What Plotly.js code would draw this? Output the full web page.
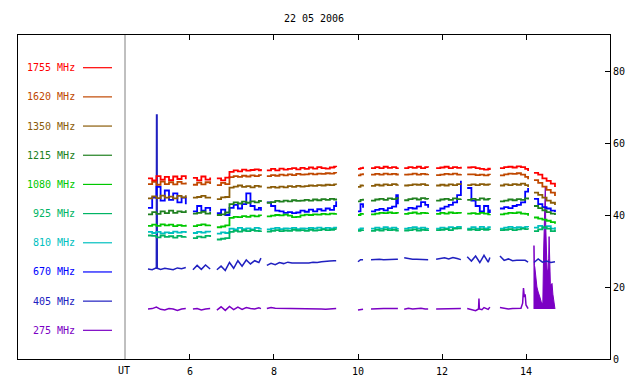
<!DOCTYPE html>
<html>
<head>
<meta charset="utf-8">
<script src="https://cdn.plot.ly/plotly-3.0.1.min.js"></script>
<style>html,body{margin:0;padding:0;background:#fff;}#chart{width:640px;height:384px;}</style>
</head>
<body>
<div id="chart"></div>
<script>
// ---- data (UT hours, values) ----
const title = '22 05 2006';
const labels = ['1755 MHz','1620 MHz','1350 MHz','1215 MHz','1080 MHz','925 MHz','810 MHz','670 MHz','405 MHz','275 MHz'];
const colors = ['#ff0000','#c04800','#8a5c08','#208020','#00c800','#00b464','#00c0c0','#0000ff','#2020c0','#7b00c4'];
const xTicks = [6, 8, 10, 12, 14];
const yTicks = [0, 20, 40, 60, 80];

const T = [5.00,5.10,5.20,5.30,5.40,5.50,5.60,5.70,5.80,5.90, 5.98,
 6.07,6.17,6.27,6.37,6.48, 6.56,
 6.64,6.74,6.84,6.94,7.04,7.14,7.24,7.34,7.44,7.54,7.64,7.69, 7.76,
 7.83,7.93,8.03,8.13,8.23,8.33,8.43,8.53,8.63,8.73,8.83,8.93,9.03,9.13,9.23,9.33,9.43,9.48, 9.70,
 10.00,10.06,10.12, 10.20,
 10.31,10.41,10.51,10.61,10.71,10.81,10.91,10.95, 11.02,
 11.10,11.20,11.30,11.40,11.50,11.60,11.67, 11.76,
 11.86,11.96,12.06,12.16,12.26,12.36,12.45, 12.52,
 12.60,12.70,12.80,12.90,13.00,13.10,13.14, 13.26,
 13.38,13.48,13.58,13.68,13.78,13.88,13.98,14.05, 14.12,
 14.19,14.29,14.39,14.49,14.59,14.69];

const S1755 = [50.2,49.6,50.8,49.8,50.6,49.7,50.7,50.0,50.8,49.9, null,
 50.3,49.6,50.7,49.8,50.4, null,
 50.2,49.6,50.4,52.0,52.4,52.1,52.6,52.3,52.5,52.7,52.4,52.8, null,
 52.4,52.8,52.4,52.9,52.6,52.8,53.0,52.7,53.1,52.8,53.2,52.9,53.3,53.0,52.9,53.2,53.4,53.3, null,
 52.8,53.0,53.4, null,
 53.0,53.3,53.0,53.4,53.1,53.3,53.0,53.2, null,
 53.0,53.3,53.1,53.4,53.0,53.3,53.2, null,
 53.0,53.2,53.4,53.0,53.3,53.1,53.4, null,
 53.2,53.3,53.0,52.8,52.6,52.9,52.5, null,
 53.0,53.3,53.4,53.2,53.5,53.3,52.8,52.2, null,
 51.7,51.2,50.2,49.5,48.7,47.8];

const S1620 = [48.6,49.2,48.4,49.3,48.6,49.1,48.5,49.2,48.7,49.0, null,
 48.4,49.0,48.5,49.1,48.6, null,
 48.3,48.9,48.6,50.5,50.8,50.6,50.9,50.7,51.0,50.8,51.1,50.9, null,
 50.8,51.1,50.9,51.2,51.0,51.3,51.1,51.4,51.2,51.3,51.5,51.3,51.5,51.4,51.6,51.5,51.7,51.6, null,
 51.0,51.3,51.6, null,
 51.2,51.4,51.2,51.5,51.3,51.4,51.2,51.5, null,
 51.2,51.3,51.5,51.2,51.4,51.3,51.4, null,
 51.1,51.2,51.4,51.3,51.5,51.2,51.4, null,
 51.3,51.3,51.1,51.2,51.0,51.2,51.1, null,
 51.0,51.3,51.5,51.4,51.6,51.2,50.6,49.9, null,
 49.7,48.9,47.9,47.0,46.2,45.3];

const S1350 = [44.6,45.2,44.7,45.4,44.8,45.1,44.6,45.3,44.9,45.5, null,
 44.8,45.0,45.3,44.8,45.1, null,
 44.4,44.9,45.0,47.6,47.9,48.2,47.8,48.0,47.7,48.1,47.9,48.2, null,
 47.6,47.8,47.6,47.9,47.7,48.0,47.8,48.1,47.9,48.0,48.2,48.1,48.3,48.2,48.4,48.3,48.5,48.4, null,
 47.8,48.2,48.4, null,
 48.1,48.4,48.2,48.5,48.3,48.6,48.4,48.5, null,
 48.2,48.3,48.5,48.4,48.6,48.3,48.5, null,
 48.2,48.4,48.2,48.5,48.3,48.6,48.4, null,
 48.3,48.5,48.3,48.6,48.4,48.5,48.3, null,
 48.2,48.5,48.3,48.6,48.4,48.7,48.3,47.8, null,
 46.2,45.6,44.8,44.0,43.4,42.8];

const S1215 = [40.2,40.8,40.3,41.0,40.5,41.2,40.6,41.0,40.8,41.3, null,
 40.4,40.6,40.9,40.4,40.8, null,
 40.0,40.2,40.7,43.0,43.5,43.2,43.7,43.4,43.8,43.5,43.9,43.6, null,
 43.4,43.6,43.9,43.7,44.0,43.8,44.1,43.9,44.0,44.2,44.0,44.3,44.1,44.4,44.2,44.5,44.3,44.6, null,
 43.8,44.2,44.5, null,
 44.0,44.3,44.5,44.2,44.6,44.4,44.7,44.5, null,
 44.1,44.4,44.6,44.3,44.7,44.5,44.4, null,
 44.0,44.3,44.5,44.2,44.6,44.4,44.5, null,
 44.2,44.5,44.2,44.6,44.3,44.5,44.4, null,
 43.8,44.0,44.3,44.1,44.4,44.2,44.6,44.3, null,
 42.5,41.9,41.3,40.8,40.4,40.0];

const S1080 = [37.0,37.3,37.0,37.4,37.1,37.3,36.9,37.2,37.0,37.3, null,
 36.9,37.2,37.4,37.1,37.3, null,
 36.6,36.8,37.1,39.2,39.5,39.4,39.7,39.5,39.8,39.6,39.9,39.7, null,
 39.6,39.8,40.0,39.9,40.1,39.8,39.4,39.5,39.9,40.1,40.0,40.2,40.1,40.3,40.2,40.4,40.3,40.5, null,
 40.0,40.3,40.5, null,
 40.2,40.4,40.6,40.5,40.7,40.5,40.6,40.4, null,
 40.3,40.5,40.7,40.4,40.6,40.5,40.6, null,
 40.3,40.6,40.4,40.7,40.5,40.6,40.4, null,
 40.4,40.5,40.3,40.6,40.4,40.2,40.3, null,
 40.2,40.4,40.6,40.5,40.7,40.4,40.3,39.8, null,
 39.3,39.0,38.7,38.4,38.0,37.6];

const S925 = [34.3,34.2,33.8,34.3,33.9,34.1,33.7,34.2,33.9,34.0, null,
 33.6,34.0,33.8,34.2,33.9, null,
 33.2,33.4,33.6,35.3,35.6,35.4,35.7,35.5,35.8,35.6,35.5,35.7, null,
 35.4,35.6,35.8,35.5,35.7,35.6,35.9,35.7,35.8,35.6,35.9,35.7,35.8,36.0,35.8,35.9,36.1,36.0, null,
 35.6,35.8,36.0, null,
 35.6,35.9,35.7,36.0,35.8,35.9,35.7,35.9, null,
 35.7,35.8,36.0,35.7,35.9,35.8,35.9, null,
 35.8,35.9,36.1,35.8,36.2,36.3,36.6, null,
 35.9,36.0,35.8,36.1,35.9,36.0,35.8, null,
 35.8,35.9,36.1,35.8,36.0,36.2,36.1,36.0, null,
 35.5,36.0,36.6,36.2,35.5,36.0];

const S810 = [35.3,35.0,35.3,34.9,35.2,35.0,35.4,35.1,35.3,35.0, null,
 35.0,35.3,35.1,35.4,35.2, null,
 34.8,35.2,35.0,36.2,36.0,36.4,36.1,36.3,36.0,36.4,36.2,36.3, null,
 36.0,36.2,36.4,36.1,36.3,36.2,36.4,36.1,36.3,36.2,36.4,36.3,36.5,36.2,36.4,36.3,36.5,36.4, null,
 36.0,36.3,36.5, null,
 36.2,36.5,36.2,36.6,36.3,36.5,36.2,36.4, null,
 36.2,36.4,36.6,36.3,36.5,36.2,36.4, null,
 36.2,36.5,36.3,36.6,36.4,36.7,36.5, null,
 36.2,36.6,36.2,36.7,36.3,36.6,36.4, null,
 36.2,36.5,36.7,36.4,36.6,36.5,36.7,36.6, null,
 36.5,37.0,36.4,36.9,36.2,36.6];

const S670 = [42.0,44.8,47.8,44.0,46.8,44.2,46.0,43.5,44.8,43.0, null,
 41.0,42.5,41.2,42.0,41.0, null,
 40.5,41.5,40.0,42.0,42.8,41.8,43.0,46.0,42.5,41.5,42.0,41.2, null,
 43.5,42.5,41.2,41.0,40.6,40.8,40.5,40.7,41.2,40.9,41.5,41.0,41.6,41.2,41.8,41.4,42.5,43.8, null,
 41.0,43.0,42.0, null,
 41.0,41.4,41.7,41.3,41.9,42.3,45.5,43.0, null,
 41.5,42.0,41.8,42.4,43.6,42.8,42.0, null,
 41.2,41.8,42.3,42.8,43.5,45.5,49.5, null,
 47.5,44.0,42.5,41.0,42.5,40.8,41.5, null,
 41.8,42.2,41.9,42.5,42.8,43.5,46.5,47.5, null,
 44.5,43.0,42.2,41.8,41.2,40.8];

const S405 = [25.0,24.8,25.3,24.9,25.2,25.0,24.8,25.3,25.1,25.4, null,
 24.8,26.0,24.9,26.1,25.0, null,
 24.8,25.8,24.6,26.8,25.2,27.3,25.8,27.5,26.4,27.3,26.8,28.0, null,
 26.0,26.6,26.2,26.8,26.5,26.9,26.7,26.7,26.6,26.8,26.7,26.9,26.8,27.0,27.0,27.2,27.3,27.3, null,
 27.0,27.6,27.6, null,
 27.6,27.7,27.7,27.6,27.7,27.8,27.7,27.7, null,
 28.1,27.8,27.7,27.7,27.6,27.7,27.6, null,
 27.7,27.9,28.1,27.8,28.2,27.9,27.6, null,
 28.4,27.2,28.6,26.8,28.8,26.9,28.2, null,
 28.6,27.4,27.8,27.3,27.4,27.3,27.4,26.9, null,
 26.8,27.8,26.9,27.2,26.8,27.0];
const burst405T = [5.205, 5.21, 5.215];
const burst405V = [25.0, 68.0, 25.0];

const T275 = [5.00,5.10,5.20,5.30,5.40,5.50,5.60,5.70,5.80,5.90, 5.98,
 6.07,6.17,6.27,6.37,6.48, 6.56,
 6.64,6.74,6.84,6.94,7.04,7.14,7.24,7.34,7.44,7.54,7.64,7.69, 7.76,
 7.83,7.93,8.03,8.13,8.23,8.33,8.43,8.53,8.63,8.73,8.83,8.93,9.03,9.13,9.23,9.33,9.43,9.48, 9.70,
 10.00,10.06,10.12, 10.20,
 10.31,10.41,10.51,10.61,10.71,10.81,10.91,10.95, 11.02,
 11.10,11.20,11.30,11.40,11.50,11.60,11.67, 11.76,
 11.86,11.96,12.06,12.16,12.26,12.36,12.45, 12.52,
 12.60,12.70,12.80,12.87,12.88,12.89,12.95,13.00,13.10,13.14, 13.26,
 13.38,13.48,13.58,13.68,13.78,13.88,13.92,13.94,13.96,13.98,14.00,14.05];
const S275 = [13.9,14.0,14.4,13.8,13.6,14.0,13.9,13.5,13.9,14.0, null,
 13.9,14.0,13.6,13.9,14.0, null,
 13.6,14.5,13.5,14.6,13.7,14.4,13.8,14.3,14.0,13.9,14.2,14.0, null,
 14.0,14.3,14.1,14.1,14.0,14.0,13.9,14.0,14.0,13.9,14.0,14.0,14.0,13.9,13.8,13.9,14.0,14.0, null,
 13.6,13.6,13.8, null,
 13.9,14.0,14.0,14.0,14.0,14.1,14.0,14.0, null,
 13.8,14.1,13.9,14.0,14.1,13.9,13.9, null,
 13.9,13.9,14.0,14.0,13.9,14.0,14.0, null,
 14.0,13.6,13.4,13.9,16.8,13.9,13.7,14.3,13.8,14.4, null,
 14.3,14.0,13.9,14.0,14.0,14.1,15.5,19.7,17.2,18.0,15.0,14.0];
const burst275T = [14.19,14.19,14.20,14.21,14.22,14.24,14.26,14.29,14.31,14.33,14.36,14.38,14.40,14.42,14.43,14.45,14.46,14.47,14.48,14.50,14.52,14.54,14.55,14.56,14.58,14.60,14.62,14.64,14.66,14.68,14.69,14.69];
const burst275V = [13.9,31.5,26.0,25.5,24.0,22.5,20.0,18.6,17.5,17.2,16.0,15.5,15.2,30.0,34.0,38.0,48.0,37.0,30.0,25.0,24.0,28.0,34.0,27.0,21.0,20.5,21.0,18.0,16.0,15.0,14.5,13.9];

// ---- traces (lowest frequency drawn first) ----
const mono = 'DejaVu Sans Mono, Liberation Mono, monospace';
const traces = [
  {x: burst275T, y: burst275V, mode: 'lines', fill: 'toself', fillcolor: colors[9], line: {color: colors[9], width: 1}},
  {x: T275, y: S275, mode: 'lines', line: {color: colors[9], width: 1.5}},
  {x: T, y: S405, mode: 'lines', line: {color: colors[8], width: 1.5}},
  {x: burst405T, y: burst405V, mode: 'lines', line: {color: colors[8], width: 2}},
];
const series = [S1755, S1620, S1350, S1215, S1080, S925, S810, S670];
for (let i = 7; i >= 0; i--) {
  traces.push({x: T, y: series[i], mode: 'lines', line: {color: colors[i], width: 1.8, shape: 'hv'}});
}

// ---- layout helpers (pixel geometry of the frame) ----
const L = 18, R = 610, TOP = 35, BOT = 359;
const xr = [1.905, 16];
const px2x = p => xr[0] + (p - L) / (R - L) * (xr[1] - xr[0]);

const shapes = [
  {type: 'line', xref: 'x', yref: 'paper', x0: px2x(125), x1: px2x(125), y0: 0, y1: 1, line: {color: '#808080', width: 1}}
];
const annotations = [
  {xref: 'x', yref: 'paper', x: px2x(124), y: 0, yanchor: 'top', yshift: -4, text: 'UT', showarrow: false, font: {family: mono, size: 10, color: '#000'}}
];
for (let i = 0; i < labels.length; i++) {
  const yPix = 67.7 + i * 29.18;
  const yPaper = (BOT - yPix) / (BOT - TOP);
  annotations.push({xref: 'paper', yref: 'paper', x: (77 - L) / (R - L), y: yPaper, xanchor: 'right', yanchor: 'middle',
    text: labels[i], showarrow: false, font: {family: mono, size: 10, color: colors[i]}});
  shapes.push({type: 'line', xref: 'paper', yref: 'paper', x0: (83 - L) / (R - L), x1: (112 - L) / (R - L), y0: yPaper, y1: yPaper,
    line: {color: colors[i], width: 1.2}});
}

const layout = {
  width: 640, height: 384,
  margin: {l: L, r: 640 - R, t: TOP, b: 384 - BOT, pad: 0},
  paper_bgcolor: '#ffffff', plot_bgcolor: '#ffffff',
  showlegend: false,
  font: {family: mono, size: 10, color: '#000'},
  title: {text: title, x: 0.5, xref: 'paper', y: 1 - 18 / 384, yanchor: 'middle', font: {family: mono, size: 10, color: '#000'}},
  xaxis: {range: xr, tickvals: xTicks, ticktext: xTicks.map(String), ticks: 'inside', ticklen: 5, tickcolor: '#000',
    showgrid: false, zeroline: false, showline: true, linecolor: '#000', linewidth: 1, mirror: 'ticks', ticklabelstandoff: 3,
    tickfont: {family: mono, size: 10, color: '#000'}},
  yaxis: {range: [0, 90], side: 'right', tickvals: yTicks, ticks: 'inside', ticklen: 5, tickcolor: '#000',
    showgrid: false, zeroline: false, showline: true, linecolor: '#000', linewidth: 1, mirror: true,
    tickfont: {family: mono, size: 10, color: '#000'}},
  shapes: shapes,
  annotations: annotations
};

Plotly.newPlot('chart', traces, layout, {staticPlot: true, displayModeBar: false});
</script>
</body>
</html>
